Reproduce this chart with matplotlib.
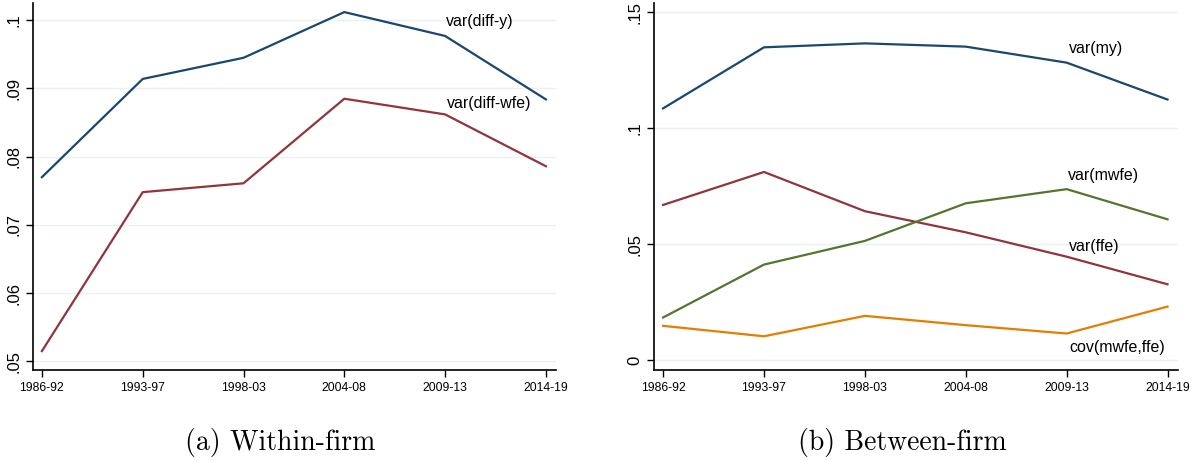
import numpy as np
import matplotlib.pyplot as plt

periods = ['1986-92', '1993-97', '1998-03', '2004-08', '2009-13', '2014-19']

# within-firm
var_diff_y = [0.0770, 0.0914, 0.0945, 0.1012, 0.0977, 0.0884]
var_diff_wfe = [0.0515, 0.0748, 0.0761, 0.0885, 0.0862, 0.0786]

# between-firm
var_my = [0.1086, 0.1349, 0.1366, 0.1352, 0.1283, 0.1124]
var_ffe = [0.0670, 0.0812, 0.0643, 0.0552, 0.0447, 0.0328]
var_mwfe = [0.0185, 0.0413, 0.0515, 0.0677, 0.0738, 0.0608]
cov_mwfe_ffe = [0.0149, 0.0104, 0.0192, 0.0152, 0.0116, 0.0232]

navy = '#1a476f'
maroon = '#90353b'
green = '#55752f'
orange = '#e37e00'
grid_c = '#eaf2f3'

fig = plt.figure(figsize=(11.98, 4.61), dpi=100)
ax1 = fig.add_axes([0.0275, 0.197, 0.4366, 0.796])
ax2 = fig.add_axes([0.546, 0.197, 0.437, 0.796])

x = np.arange(len(periods))

def style(ax, yticks, ylabels, ylim):
    ax.set_xlim(-0.089, 5.1)
    ax.set_ylim(*ylim)
    ax.set_xticks(x)
    ax.set_xticklabels(periods, family='Liberation Sans', fontsize=8.8)
    ax.set_yticks(yticks)
    ax.set_yticklabels(ylabels, rotation=90, va='center', family='Liberation Sans', fontsize=12)
    for s in ['top', 'right']:
        ax.spines[s].set_visible(False)
    ax.spines['left'].set_linewidth(1.2)
    ax.spines['bottom'].set_linewidth(1.2)
    ax.tick_params(direction='out', length=5, width=1)
    ax.grid(axis='y', color=grid_c, lw=1)
    ax.set_axisbelow(True)

lw = 1.6
ax1.plot(x, var_diff_y, color=navy, lw=lw)
ax1.plot(x, var_diff_wfe, color=maroon, lw=lw)
style(ax1, [0.05, 0.06, 0.07, 0.08, 0.09, 0.1], ['.05', '.06', '.07', '.08', '.09', '.1'], (0.0487, 0.1025))
lab = dict(family='Liberation Sans', fontsize=11.5, ha='center', va='center')
ax1.text(4.34, 0.0998, 'var(diff-y)', **lab)
ax1.text(4.44, 0.0878, 'var(diff-wfe)', **lab)

ax2.plot(x, var_my, color=navy, lw=lw)
ax2.plot(x, var_ffe, color=maroon, lw=lw)
ax2.plot(x, var_mwfe, color=green, lw=lw)
ax2.plot(x, cov_mwfe_ffe, color=orange, lw=lw)
style(ax2, [0, 0.05, 0.1, 0.15], ['0', '.05', '.1', '.15'], (-0.0042, 0.1539))
ax2.text(4.29, 0.1342, 'var(my)', **lab)
ax2.text(4.37, 0.0795, 'var(mwfe)', **lab)
ax2.text(4.27, 0.0493, 'var(ffe)', **lab)
ax2.text(4.50, 0.0057, 'cov(mwfe,ffe)', **lab)

cap = dict(family='cmr10', fontsize=20, ha='center', va='center')
fig.text(280 / 1198, 1 - 442 / 461, '(a) Within-firm', **cap)
fig.text(902 / 1198, 1 - 442 / 461, '(b) Between-firm', **cap)

fig.savefig('out.png', dpi=100)
